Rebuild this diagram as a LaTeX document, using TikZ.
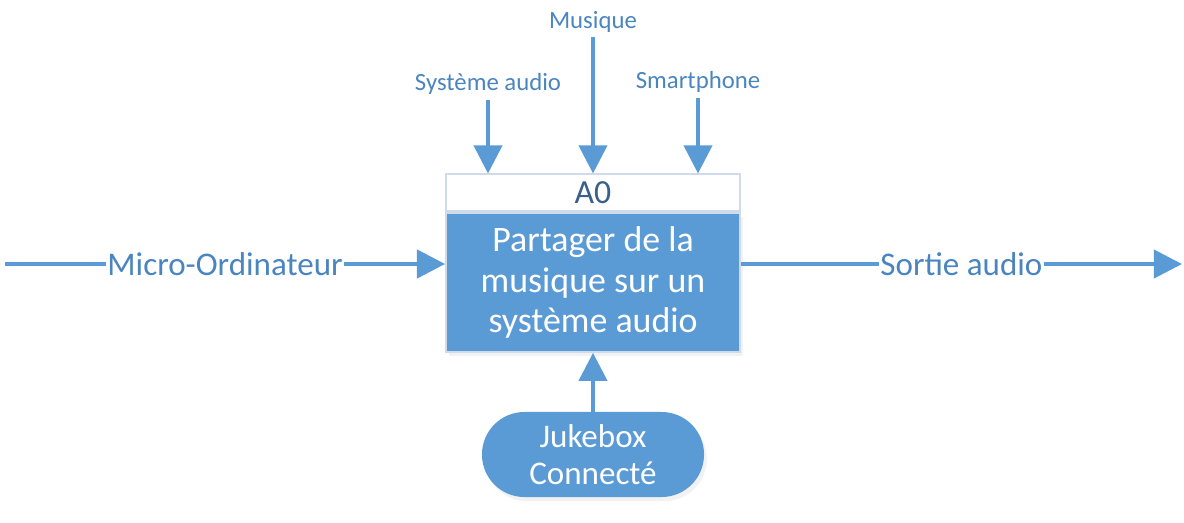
\documentclass[tikz,border=0pt]{standalone}
\usepackage{fontspec}
\setmainfont{Carlito}
\usepackage{tikz}
\usetikzlibrary{arrows.meta,positioning,shadows}
\definecolor{idefblue}{HTML}{5B9BD5}
\definecolor{idefedge}{HTML}{CFDBEA}
\definecolor{ideftext}{HTML}{4A85C0}
\definecolor{idefdark}{HTML}{3A5F8A}

\begin{document}
\begin{tikzpicture}[x=0.025cm,y=-0.025cm,
  flow/.style={idefblue,line width=2.8pt,-{Triangle[length=20pt,width=20pt]}},
  toplabel/.style={text=ideftext,font=\fontsize{17.6}{21}\selectfont},
  sidelabel/.style={text=ideftext,fill=white,inner sep=1pt,font=\fontsize{23.5}{28}\selectfont},
  shade/.style={drop shadow={opacity=0.10,shadow xshift=2pt,shadow yshift=-3pt}}]
  \useasboundingbox (0,0) rectangle (1184,522);

  % Activity box (header + body)
  \node[shade,draw=idefedge,line width=1.2pt,fill=idefblue,minimum width=7.35cm,minimum height=3.475cm,
        text=white,align=center,font=\fontsize{25.5}{28.5}\selectfont] (func) at (593,282.5)
        {Partager de la\\musique sur un\\système audio};
  \node[draw=idefedge,line width=1.2pt,fill=white,minimum width=7.35cm,minimum height=0.925cm,
        text=idefdark,font=\fontsize{24}{28}\selectfont,above=0pt of func] (hdr) {A0};

  % Controls
  \node[toplabel] (sys) at (488,84) {Système audio};
  \node[toplabel] (mus) at (593,22) {Musique};
  \node[toplabel] (smart) at (698,82) {Smartphone};
  \draw[flow] (sys.south) -- (sys.south |- hdr.north);
  \draw[flow] (mus.south) -- (mus.south |- hdr.north);
  \draw[flow] (smart.south) -- (smart.south |- hdr.north);

  % Input / output
  \coordinate (src) at (5,264);
  \coordinate (sink) at (1182,264);
  \draw[flow] (src) -- node[sidelabel] (in) {Micro-Ordinateur} (src -| func.west);
  \draw[flow] (func.east |- src) -- node[sidelabel] (out) {Sortie audio} (sink);

  % Mechanism
  \node[shade,fill=idefblue,rounded corners=1.06cm,minimum width=5.55cm,minimum height=2.125cm,
        text=white,align=center,font=\fontsize{23.5}{26}\selectfont] (jb) at (593,454.5)
        {Jukebox\\Connecté};
  \draw[flow] (jb.north) -- (func.south);
\end{tikzpicture}
\end{document}
